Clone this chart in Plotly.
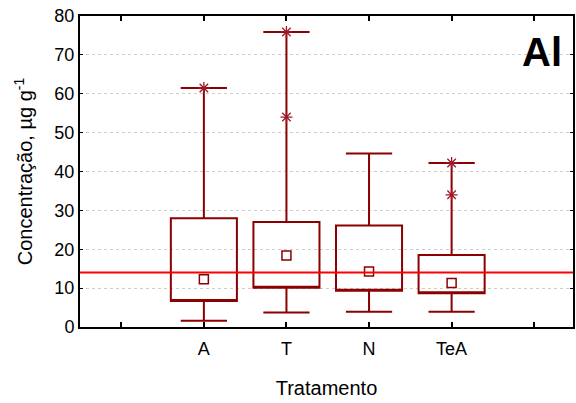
import plotly.graph_objects as go

categories = ["A", "T", "N", "TeA"]
q1 = [6.7, 10.1, 9.3, 8.7]
q3 = [28.0, 27.0, 26.1, 18.5]
center = [12.3, 18.4, 14.3, 11.3]
whisk_low = [1.6, 3.7, 3.9, 3.9]
whisk_high = [61.5, 75.9, 44.6, 42.2]
star_cat = ["A", "T", "T", "TeA", "TeA"]
star_val = [61.5, 75.9, 54.0, 42.2, 34.0]
ref_line = 14.0
tick_labels = ["", "A", "T", "N", "TeA", ""]

pos = {c: i + 1 for i, c in enumerate(categories)}
xs = [pos[c] for c in categories]
dark = "#8B0000"

fig = go.Figure()
fig.add_trace(go.Box(
    x=xs, q1=q1, median=q1, q3=q3,
    lowerfence=whisk_low, upperfence=whisk_high,
    width=0.8, whiskerwidth=0.7,
    fillcolor="rgba(255,255,255,0)",
    line=dict(color=dark, width=2),
    boxpoints=False, hoverinfo="skip", showlegend=False,
))
fig.add_trace(go.Scatter(
    x=xs, y=center, mode="markers",
    marker=dict(symbol="square-open", size=9, color=dark, line=dict(width=1.5)),
    showlegend=False,
))
fig.add_trace(go.Scatter(
    x=[pos[c] for c in star_cat], y=star_val, mode="markers",
    marker=dict(symbol="asterisk-open", size=10, color="#A01828", line=dict(width=1.3, color="#A01828")),
    showlegend=False,
))
fig.add_shape(type="line", xref="paper", x0=0, x1=1, yref="y", y0=ref_line, y1=ref_line,
              line=dict(color="#FF0000", width=2))
fig.add_annotation(text="<b>Al</b>", xref="paper", yref="paper", x=0.937, y=0.884,
                   xanchor="center", yanchor="middle",
                   showarrow=False,
                   font=dict(size=40, color="black", family="Liberation Sans Narrow, Arial Narrow, Liberation Sans"))

font = dict(family="Liberation Sans, Arial", size=18, color="black")
fig.update_layout(
    width=576, height=403,
    margin=dict(l=80, r=1, t=16, b=76),
    plot_bgcolor="white", paper_bgcolor="white",
    font=font,
    xaxis=dict(
        range=[-0.5, 5.47], tickmode="array", tickvals=list(range(6)), ticktext=tick_labels,
        ticks="inside", ticklen=5, tickwidth=2, tickcolor="black",
        ticklabelstandoff=4,
        showline=True, linecolor="black", linewidth=2, mirror="ticks",
        showgrid=False, zeroline=False,
        title=dict(text="Tratamento", font=dict(size=20), standoff=23),
    ),
    yaxis=dict(
        range=[0, 80], tickvals=[0, 10, 20, 30, 40, 50, 60, 70, 80],
        ticks="inside", ticklen=3, tickwidth=1, tickcolor="black",
        showline=True, linecolor="black", linewidth=2, mirror="ticks",
        showgrid=True, gridcolor="#CDCDCD", griddash="dot", gridwidth=1,
        zeroline=False,
        title=dict(text="Concentração, µg g<sup>-1</sup>", font=dict(size=20), standoff=16),
    ),
)
fig.write_html("out.html")
